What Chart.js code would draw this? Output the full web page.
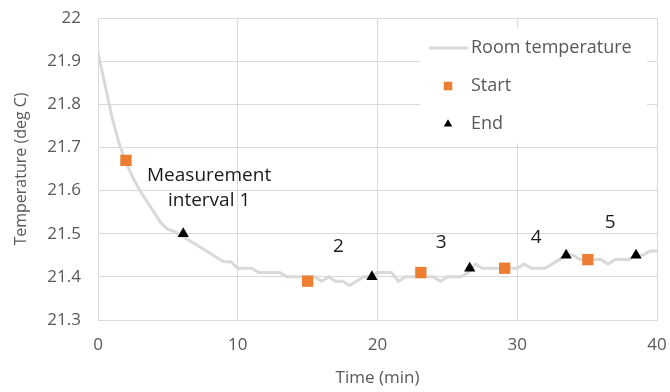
<!DOCTYPE html>
<html>
<head>
<meta charset="utf-8">
<script src="https://cdn.jsdelivr.net/npm/chart.js@4"></script>
<style>
  html, body { margin: 0; padding: 0; background: #fff; }
  #wrap { position: relative; width: 670px; height: 392px; }
</style>
</head>
<body>
<div id="wrap"><canvas id="c" width="670" height="392"></canvas></div>
<script>
// Room temperature trace (min, deg C)
const timeMin = [0, 0.5, 1, 1.5, 2, 2.5, 3, 3.5, 4, 4.5, 5, 5.5, 6, 6.5, 7, 7.5, 8, 8.5, 9, 9.5,
  10, 10.5, 11, 11.5, 12, 12.5, 13, 13.5, 14, 14.5, 15, 15.5, 16, 16.5, 17, 17.5, 18, 18.5, 19, 19.5,
  20, 20.5, 21, 21.5, 22, 22.5, 23, 23.5, 24, 24.5, 25, 25.5, 26, 26.5, 27, 27.5, 28, 28.5, 29, 29.5,
  30, 30.5, 31, 31.5, 32, 32.5, 33, 33.5, 34, 34.5, 35, 35.5, 36, 36.5, 37, 37.5, 38, 38.5, 39, 39.5, 40];
const roomTemp = [21.92, 21.845, 21.77, 21.71, 21.665, 21.63, 21.60, 21.575, 21.55, 21.525, 21.51, 21.505, 21.495, 21.485, 21.475, 21.465, 21.455, 21.445, 21.435, 21.435,
  21.42, 21.42, 21.42, 21.41, 21.41, 21.41, 21.41, 21.40, 21.40, 21.40, 21.40, 21.40, 21.39, 21.40, 21.39, 21.39, 21.38, 21.39, 21.40, 21.40,
  21.41, 21.41, 21.41, 21.39, 21.40, 21.40, 21.40, 21.40, 21.40, 21.39, 21.40, 21.40, 21.40, 21.41, 21.43, 21.42, 21.42, 21.42, 21.42, 21.42,
  21.42, 21.43, 21.42, 21.42, 21.42, 21.43, 21.44, 21.45, 21.45, 21.44, 21.44, 21.44, 21.44, 21.43, 21.44, 21.44, 21.44, 21.45, 21.45, 21.46, 21.46];

const startTime = [2, 15, 23.1, 29.1, 35.05];
const startTemp = [21.67, 21.39, 21.41, 21.42, 21.44];
const endTime = [6.1, 19.6, 26.6, 33.5, 38.5];
const endTemp = [21.50, 21.40, 21.42, 21.45, 21.45];

// interval annotations (placed in data coordinates)
const noteText = ['Measurement', 'interval 1', '2', '3', '4', '5'];
const noteTime = [7.95, 7.95, 17.2, 24.55, 31.35, 36.65];
const noteTemp = [21.634, 21.576, 21.469, 21.48, 21.492, 21.525];

const xTicks = [0, 10, 20, 30, 40];
const yTicks = [21.3, 21.4, 21.5, 21.6, 21.7, 21.8, 21.9, 22];

const FONT = "'Open Sans', 'Liberation Sans', sans-serif";
const GRID = '#d9d9d9';
const TEXT = '#595959';

function pts(xs, ys) { return xs.map((x, i) => ({ x, y: ys[i] })); }

const notesPlugin = {
  id: 'notes',
  afterDatasetsDraw(chart) {
    const { ctx, scales } = chart;
    ctx.save();
    ctx.font = '19px ' + FONT;
    ctx.fillStyle = '#1a1a1a';
    ctx.textAlign = 'center';
    ctx.textBaseline = 'middle';
    noteText.forEach((t, i) => {
      ctx.fillText(t, scales.x.getPixelForValue(noteTime[i]), scales.y.getPixelForValue(noteTemp[i]));
    });
    ctx.restore();
  }
};

// legend box sits inside the plot area, top right
const legendPlugin = {
  id: 'insideLegend',
  afterDraw(chart) {
    const { ctx, chartArea } = chart;
    const left = chartArea.right - 237, top = chartArea.top + 10;
    ctx.save();
    ctx.fillStyle = '#fff';
    ctx.fillRect(left, top, 227, 115);
    ctx.font = '18px ' + FONT;
    ctx.textBaseline = 'middle';
    const ds = chart.data.datasets;
    const rows = [top + 20, top + 58, top + 96];
    const mx = left + 28;
    ds.forEach((d, i) => {
      const y = rows[i];
      if (i === 0) {
        ctx.strokeStyle = d.borderColor;
        ctx.lineWidth = d.borderWidth;
        ctx.beginPath();
        ctx.moveTo(left + 9, y);
        ctx.lineTo(left + 48, y);
        ctx.stroke();
      } else {
        ctx.fillStyle = d.pointBackgroundColor;
        ctx.strokeStyle = d.pointBackgroundColor;
        Chart.helpers.drawPoint(ctx, { pointStyle: d.pointStyle, radius: d.pointRadius * 0.75, borderWidth: 0 }, mx, y);
      }
      ctx.fillStyle = TEXT;
      ctx.fillText(d.label, left + 51, y);
    });
    ctx.restore();
  }
};

new Chart(document.getElementById('c'), {
  type: 'scatter',
  data: {
    datasets: [
      {
        label: 'Room temperature',
        data: pts(timeMin, roomTemp),
        showLine: true,
        borderColor: '#d9d9d9',
        borderWidth: 3,
        pointRadius: 0,
        tension: 0,
        order: 3
      },
      {
        label: 'Start',
        data: pts(startTime, startTemp),
        pointStyle: 'rect',
        pointRadius: 8,
        pointBackgroundColor: '#ed7d31',
        pointBorderColor: '#ed7d31',
        pointBorderWidth: 0,
        order: 2
      },
      {
        label: 'End',
        data: pts(endTime, endTemp),
        pointStyle: 'triangle',
        pointRadius: 6.5,
        pointBackgroundColor: '#000',
        pointBorderColor: '#000',
        pointBorderWidth: 0,
        order: 1
      }
    ]
  },
  options: {
    responsive: false,
    animation: false,
    layout: { padding: { top: 18, right: 0, left: 0, bottom: 0 } },
    plugins: {
      legend: { display: false },
      tooltip: { enabled: false }
    },
    scales: {
      x: {
        type: 'linear',
        min: 0, max: 40,
        afterBuildTicks: (s) => { s.ticks = xTicks.map(v => ({ value: v })); },
        afterFit: (s) => { s.height = 72; s.paddingRight = 13; s.paddingLeft = 0; },
        grid: { color: GRID, drawTicks: false, lineWidth: 1 },
        border: { color: GRID },
        ticks: { color: TEXT, font: { family: FONT, size: 17 }, padding: 15 },
        title: { display: true, text: 'Time (min)', color: TEXT, font: { family: FONT, size: 17 }, padding: { top: 0, bottom: 4 } }
      },
      y: {
        type: 'linear',
        min: 21.3, max: 22,
        afterBuildTicks: (s) => { s.ticks = yTicks.map(v => ({ value: v })); },
        afterFit: (s) => { s.width = 98; s.paddingTop = 0; s.paddingBottom = 0; },
        grid: { color: GRID, drawTicks: false, lineWidth: 1 },
        border: { color: GRID },
        ticks: { color: TEXT, font: { family: FONT, size: 17 }, padding: 17,
          callback: (v) => String(Math.round(v * 10) / 10) },
        title: { display: true, text: 'Temperature (deg C)', color: TEXT, font: { family: FONT, size: 16 }, padding: { top: 12, bottom: 0 } }
      }
    }
  },
  plugins: [notesPlugin, legendPlugin]
});
</script>
</body>
</html>
